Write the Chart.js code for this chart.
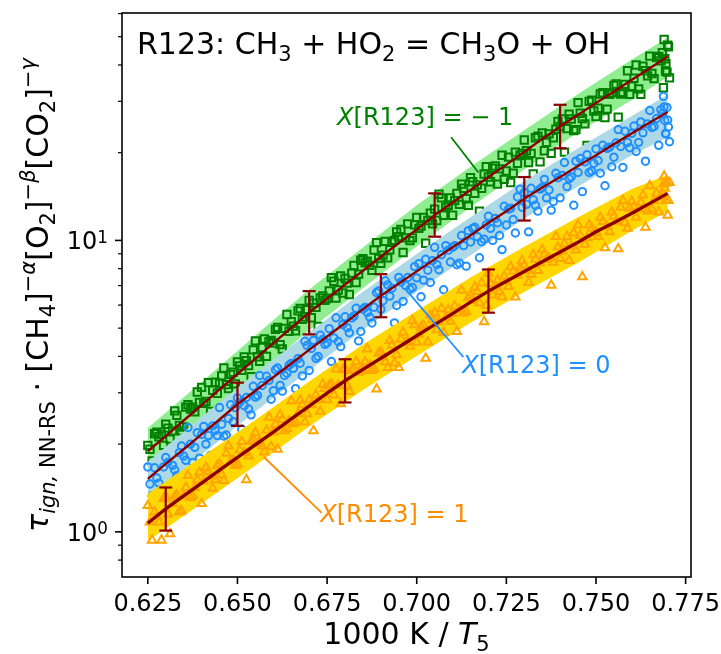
<!DOCTYPE html>
<html lang="en">
<head>
  <meta charset="UTF-8" />
  <title>R123: CH3 + HO2 = CH3O + OH</title>
  <script src="https://cdn.jsdelivr.net/npm/chart.js"></script>
  <style>
    html, body { margin: 0; padding: 0; background: #fff; }
    #wrap { width: 721px; height: 654px; }
  </style>
</head>
<body>
  <div id="wrap"><canvas id="chart" width="721" height="654"></canvas></div>

  <script>
    // ---- data ----
    const xTickValues = [0.625, 0.650, 0.675, 0.700, 0.725, 0.750, 0.775];
    const xTickLabels = ["0.625", "0.650", "0.675", "0.700", "0.725", "0.750", "0.775"];
    const yMajorValues = [1, 10];
    const yMajorExponents = ["0", "1"];
    const yMinorValues = [0.8, 0.9, 2, 3, 4, 5, 6, 7, 8, 9, 20, 30, 40, 50, 60];

    // NN-RS fit curves
    const fitX = [0.625, 0.630, 0.635, 0.640, 0.645, 0.650, 0.655, 0.660, 0.665, 0.670,
                  0.675, 0.680, 0.685, 0.690, 0.695, 0.700, 0.705, 0.710, 0.715, 0.720,
                  0.725, 0.730, 0.735, 0.740, 0.745, 0.750, 0.755, 0.760, 0.765, 0.770];
    const fitGreen = [1.89, 2.13, 2.41, 2.72, 3.08, 3.48, 3.93, 4.44, 5.01, 5.65,
                      6.31, 7.05, 7.87, 8.79, 9.80, 10.9, 12.2, 13.5, 14.9, 16.5,
                      18.2, 20.1, 22.3, 24.6, 27.0, 29.6, 32.4, 35.6, 39.0, 42.8];
    const fitBlue = [1.52, 1.71, 1.92, 2.16, 2.43, 2.74, 3.05, 3.39, 3.78, 4.21,
                     4.68, 5.21, 5.81, 6.46, 7.11, 7.83, 8.61, 9.48, 10.4, 11.5,
                     12.6, 13.9, 15.2, 16.5, 18.0, 19.6, 21.4, 23.3, 25.4, 27.6];
    const fitOrange = [1.07, 1.20, 1.33, 1.47, 1.63, 1.80, 1.99, 2.20, 2.44, 2.70,
                       2.99, 3.30, 3.61, 3.94, 4.31, 4.71, 5.14, 5.61, 6.14, 6.70,
                       7.24, 7.82, 8.45, 9.12, 9.86, 10.7, 11.5, 12.4, 13.4, 14.5];

    // shaded uncertainty bands
    const bandX = [0.625, 0.640, 0.655, 0.670, 0.685, 0.700, 0.715, 0.730, 0.745, 0.760, 0.770];
    const greenHi = [2.27, 3.27, 4.72, 6.79, 9.46, 13.2, 17.9, 23.9, 31.8, 41.8, 49.7];
    const greenLo = [1.64, 2.37, 3.42, 4.92, 6.85, 9.53, 13.0, 17.5, 23.5, 30.3, 36.4];
    const blueHi = [1.74, 2.48, 3.50, 4.83, 6.67, 8.99, 12.0, 16.0, 20.7, 26.7, 31.7];
    const blueLo = [1.29, 1.84, 2.59, 3.58, 4.94, 6.67, 8.89, 11.9, 15.3, 19.6, 22.6];
    const orangeHi = [1.35, 1.81, 2.42, 3.28, 4.39, 5.73, 7.46, 9.51, 12.0, 15.0, 16.8];
    const orangeLo = [0.93, 1.25, 1.69, 2.30, 3.07, 4.01, 5.22, 6.65, 8.39, 10.8, 12.6];

    // error bars
    const greenErrX = [0.670, 0.705, 0.740];
    const greenErrLo = [4.76, 10.3, 20.7];
    const greenErrHi = [6.70, 14.5, 29.2];
    const blueErrX = [0.650, 0.690, 0.730];
    const blueErrLo = [2.31, 5.45, 11.7];
    const blueErrHi = [3.25, 7.66, 16.5];
    const orangeErrX = [0.630, 0.680, 0.720];
    const orangeErrLo = [1.01, 2.78, 5.65];
    const orangeErrHi = [1.42, 3.91, 7.95];

    // scattered samples, two passes of x positions shared by the three mixtures
    const scatterX = [
      0.625, 0.6262, 0.6275, 0.6288, 0.630, 0.6312, 0.6325, 0.6338,
      0.635, 0.6362, 0.6375, 0.6388, 0.640, 0.6412, 0.6425, 0.6438,
      0.645, 0.6462, 0.6475, 0.6488, 0.650, 0.6512, 0.6525, 0.6538,
      0.655, 0.6562, 0.6575, 0.6588, 0.660, 0.6612, 0.6625, 0.6638,
      0.665, 0.6662, 0.6675, 0.6688, 0.670, 0.6712, 0.6725, 0.6738,
      0.675, 0.6762, 0.6775, 0.6788, 0.680, 0.6812, 0.6825, 0.6838,
      0.685, 0.6862, 0.6875, 0.6888, 0.690, 0.6912, 0.6925, 0.6938,
      0.695, 0.6962, 0.6975, 0.6988, 0.700, 0.7012, 0.7025, 0.7038,
      0.705, 0.7062, 0.7075, 0.7088, 0.710, 0.7112, 0.7125, 0.7138,
      0.715, 0.7162, 0.7175, 0.7188, 0.720, 0.7212, 0.7225, 0.7238,
      0.725, 0.7262, 0.7275, 0.7288, 0.730, 0.7312, 0.7325, 0.7338,
      0.735, 0.7362, 0.7375, 0.7388, 0.740, 0.7412, 0.7425, 0.7438,
      0.745, 0.7462, 0.7475, 0.7488, 0.750, 0.7512, 0.7525, 0.7538,
      0.755, 0.7562, 0.7575, 0.7588, 0.760, 0.7612, 0.7625, 0.7638,
      0.765, 0.7662, 0.7675, 0.7688, 0.769, 0.7695, 0.770, 0.7705
    ];
    const scatterX2 = [
      0.6256, 0.6269, 0.6281, 0.6294, 0.6306, 0.6319, 0.6331, 0.6344,
      0.6356, 0.6369, 0.6381, 0.6394, 0.6406, 0.6419, 0.6431, 0.6444,
      0.6456, 0.6469, 0.6481, 0.6494, 0.6506, 0.6519, 0.6531, 0.6544,
      0.6556, 0.6569, 0.6581, 0.6594, 0.6606, 0.6619, 0.6631, 0.6644,
      0.6656, 0.6669, 0.6681, 0.6694, 0.6706, 0.6719, 0.6731, 0.6744,
      0.6756, 0.6769, 0.6781, 0.6794, 0.6806, 0.6819, 0.6831, 0.6844,
      0.6856, 0.6869, 0.6881, 0.6894, 0.6906, 0.6919, 0.6931, 0.6944,
      0.6956, 0.6969, 0.6981, 0.6994, 0.7006, 0.7019, 0.7031, 0.7044,
      0.7056, 0.7069, 0.7081, 0.7094, 0.7106, 0.7119, 0.7131, 0.7144,
      0.7156, 0.7169, 0.7181, 0.7194, 0.7206, 0.7219, 0.7231, 0.7244,
      0.7256, 0.7269, 0.7281, 0.7294, 0.7306, 0.7319, 0.7331, 0.7344,
      0.7356, 0.7369, 0.7381, 0.7394, 0.7406, 0.7419, 0.7431, 0.7444,
      0.7456, 0.7469, 0.7481, 0.7494, 0.7506, 0.7519, 0.7531, 0.7544,
      0.7556, 0.7569, 0.7581, 0.7594, 0.7606, 0.7619, 0.7631, 0.7644,
      0.7656, 0.7669, 0.7681, 0.7694, 0.7685, 0.7692, 0.7698, 0.7702
    ];
    const greenY = [
      1.98, 1.75, 2.20, 2.16, 2.34, 2.08, 2.60, 2.32,
      2.29, 2.73, 2.68, 3.02, 3.13, 2.80, 2.59, 3.26,
      3.23, 3.65, 3.10, 3.53, 3.83, 3.58, 3.87, 3.41,
      4.52, 3.85, 4.59, 4.49, 4.44, 5.03, 4.24, 5.57,
      5.26, 4.90, 5.84, 5.46, 6.22, 6.09, 5.07, 6.45,
      6.31, 7.45, 6.34, 7.55, 7.40, 6.52, 8.20, 7.66,
      8.66, 8.48, 7.90, 9.83, 8.35, 9.93, 9.29, 10.0,
      10.3, 9.09, 11.4, 10.2, 12.0, 11.2, 9.78, 12.4,
      12.8, 14.4, 12.2, 13.2, 12.2, 14.5, 15.6, 13.9,
      16.4, 14.5, 12.6, 16.9, 16.5, 17.7, 15.6, 19.6,
      17.3, 15.8, 20.1, 19.6, 22.1, 18.5, 16.9, 22.8,
      23.4, 21.7, 19.9, 24.1, 24.6, 20.1, 27.1, 23.8,
      29.7, 26.2, 21.2, 30.3, 26.6, 31.8, 26.4, 31.7,
      34.0, 26.5, 32.2, 38.2, 33.8, 40.0, 31.7, 38.2,
      42.9, 35.9, 42.8, 33.4, 48.9, 40.4, 46.8, 36.1
    ];
    const greenY2 = [
      1.92, 2.17, 2.12, 1.98, 2.27, 2.22, 2.51, 2.22,
      2.68, 2.64, 2.58, 2.78, 2.76, 3.25, 3.06, 2.99,
      3.43, 3.20, 3.47, 3.22, 3.71, 3.98, 3.72, 4.21,
      3.99, 4.29, 4.00, 4.54, 4.95, 4.39, 4.99, 4.88,
      5.08, 5.73, 5.36, 5.79, 5.43, 5.89, 6.35, 6.23,
      6.71, 7.24, 6.76, 6.60, 7.14, 7.72, 7.17, 8.55,
      8.37, 8.21, 9.27, 8.67, 8.90, 8.71, 9.88, 10.7,
      10.9, 10.2, 9.98, 11.3, 11.0, 12.0, 11.7, 11.4,
      11.7, 14.0, 13.0, 14.0, 13.7, 13.3, 15.1, 13.2,
      15.9, 15.5, 15.1, 17.9, 15.9, 18.0, 17.6, 16.2,
      19.3, 17.0, 18.4, 19.9, 20.3, 19.9, 22.5, 18.6,
      20.3, 23.2, 22.5, 25.6, 26.1, 24.2, 26.1, 24.0,
      27.3, 25.1, 30.0, 27.8, 28.4, 32.1, 28.2, 32.1,
      34.4, 31.8, 34.3, 31.7, 36.0, 33.1, 39.6, 36.7,
      37.4, 42.4, 41.3, 38.1, 44.1, 42.0, 37.8, 46.2
    ];
    const blueY = [
      1.67, 1.33, 1.53, 1.33, 1.80, 1.41, 1.63, 1.87,
      1.82, 2.28, 1.73, 2.19, 2.16, 2.00, 1.83, 2.23,
      2.67, 2.13, 2.45, 2.39, 2.88, 2.25, 2.89, 2.52,
      2.90, 3.44, 2.42, 3.31, 3.05, 3.65, 3.04, 3.50,
      3.78, 3.10, 3.79, 4.51, 3.58, 4.54, 4.00, 4.57,
      4.45, 3.84, 5.43, 4.32, 5.47, 4.82, 5.50, 4.52,
      5.81, 5.66, 5.21, 6.62, 5.81, 7.27, 6.44, 5.21,
      7.47, 6.18, 7.46, 6.89, 7.44, 6.41, 8.62, 7.17,
      9.47, 7.93, 6.77, 9.26, 9.48, 8.25, 10.4, 8.16,
      9.88, 11.1, 8.72, 10.1, 12.1, 10.0, 11.5, 9.30,
      11.3, 12.9, 10.6, 15.0, 14.6, 10.7, 13.8, 12.6,
      15.2, 14.0, 12.7, 17.0, 14.0, 18.5, 16.3, 13.2,
      17.1, 14.7, 19.7, 17.3, 20.6, 17.0, 15.4, 20.9,
      19.3, 24.0, 17.8, 21.7, 23.3, 20.2, 25.5, 18.7,
      27.9, 24.6, 21.2, 31.2, 28.7, 23.2, 25.9, 21.8
    ];
    const blueY2 = [
      1.46, 1.66, 1.47, 1.67, 1.73, 1.69, 1.56, 1.97,
      1.76, 2.00, 1.95, 1.79, 2.30, 2.14, 2.31, 2.14,
      2.34, 2.15, 2.73, 2.67, 2.78, 2.71, 2.64, 3.16,
      2.94, 3.18, 3.42, 2.85, 3.60, 3.18, 3.44, 3.73,
      3.64, 3.93, 3.43, 4.36, 4.26, 3.94, 4.73, 4.40,
      4.98, 4.63, 4.50, 5.14, 5.02, 5.42, 5.85, 4.87,
      5.89, 5.45, 5.90, 6.71, 6.21, 7.04, 6.86, 5.98,
      7.20, 7.00, 6.80, 8.13, 8.32, 7.31, 7.90, 8.52,
      8.27, 8.93, 9.60, 8.43, 9.59, 8.36, 9.60, 10.8,
      11.0, 10.3, 9.90, 11.3, 11.0, 11.9, 10.4, 13.1,
      12.8, 11.8, 14.1, 13.0, 13.3, 15.1, 13.2, 15.0,
      16.2, 14.9, 13.6, 16.4, 16.7, 15.3, 16.5, 18.7,
      19.1, 18.6, 17.1, 18.4, 18.8, 21.2, 20.7, 17.9,
      21.6, 21.0, 23.7, 20.8, 24.7, 21.7, 23.4, 25.1,
      24.4, 26.2, 28.1, 23.3, 27.2, 25.8, 28.6, 24.5
    ];
    const orangeY = [
      1.23, 0.935, 1.13, 0.936, 1.32, 0.984, 1.32, 1.17,
      1.33, 1.56, 1.33, 1.51, 1.25, 1.66, 1.55, 1.51,
      1.71, 1.50, 1.97, 1.76, 1.71, 2.04, 1.51, 2.04,
      2.19, 2.04, 1.88, 2.47, 2.20, 1.92, 2.43, 2.26,
      2.81, 2.38, 2.83, 2.38, 2.84, 2.22, 2.84, 3.21,
      2.84, 3.21, 3.62, 2.75, 3.63, 3.03, 3.62, 3.53,
      3.61, 4.24, 3.58, 3.09, 4.14, 3.83, 4.53, 3.80,
      3.66, 4.84, 4.50, 5.30, 4.47, 5.05, 3.94, 5.54,
      5.65, 5.25, 4.83, 5.78, 5.61, 4.87, 6.74, 5.70,
      6.45, 6.91, 6.10, 5.26, 7.71, 6.49, 7.31, 6.39,
      7.24, 8.12, 6.39, 8.05, 8.21, 7.17, 8.93, 7.88,
      9.30, 8.61, 7.02, 10.3, 8.66, 9.75, 8.53, 10.6,
      11.3, 7.50, 10.2, 11.0, 10.7, 12.0, 9.44, 10.7,
      12.1, 9.36, 13.7, 11.0, 13.6, 12.0, 13.5, 11.1,
      15.4, 13.7, 12.5, 15.6, 16.6, 13.7, 12.2, 15.8
    ];
    const orangeY2 = [
      1.08, 1.17, 1.08, 1.30, 1.15, 1.25, 1.34, 1.18,
      1.42, 1.31, 1.42, 1.60, 1.49, 1.61, 1.41, 1.69,
      1.57, 1.86, 1.74, 1.69, 1.91, 1.87, 1.82, 2.07,
      2.01, 1.97, 2.23, 1.96, 2.34, 2.52, 2.22, 2.40,
      2.35, 2.54, 2.73, 2.54, 2.73, 2.95, 2.59, 3.10,
      3.18, 2.95, 3.18, 3.60, 3.17, 3.58, 3.84, 3.57,
      3.83, 3.73, 3.63, 4.10, 3.98, 3.66, 4.37, 4.05,
      4.58, 4.46, 4.33, 5.13, 4.76, 5.11, 4.48, 5.34,
      4.94, 5.84, 5.43, 5.28, 5.95, 5.80, 5.63, 6.36,
      6.21, 6.67, 7.14, 5.98, 7.10, 6.90, 6.68, 7.53,
      6.94, 7.83, 7.59, 8.53, 7.89, 7.65, 8.61, 8.37,
      8.96, 8.70, 8.42, 9.49, 9.20, 10.3, 9.57, 9.27,
      10.4, 9.69, 11.3, 10.6, 10.3, 11.6, 11.2, 12.5,
      11.6, 13.0, 11.5, 12.9, 13.1, 12.8, 14.3, 12.6,
      12.8, 14.5, 14.1, 15.7, 14.4, 15.1, 15.8, 13.7
    ];

    // ---- text ----
    const titleParts = [["R123: CH"], ["3", "sub"], [" + HO"], ["2", "sub"], [" = CH"], ["3", "sub"], ["O + OH"]];
    const xLabelParts = [["1000 K / "], ["T", "it"], ["5", "sub"]];
    const yLabelParts = [["τ", "it"], ["ign,", "sub it"], [" NN-RS", "sub"], [" · [CH"], ["4", "sub"], ["]"],
                         ["−", "sup"], ["α", "sup it"], ["[O"], ["2", "sub"], ["]"], ["−", "sup"], ["β", "sup it"],
                         ["[CO"], ["2", "sub"], ["]"], ["−", "sup"], ["γ", "sup it"]];
    const notes = [
      { parts: [["X", "it"], ["[R123] = − 1"]], color: "#008000", tx: 0.6778, ty: 24.8, x1: 0.7096, y1: 22.6, x2: 0.7172, y2: 17.1 },
      { parts: [["X", "it"], ["[R123] = 0"]], color: "#1e90ff", tx: 0.7127, ty: 3.51, x1: 0.7130, y1: 3.98, x2: 0.6973, y2: 6.71 },
      { parts: [["X", "it"], ["[R123] = 1"]], color: "#ff8c00", tx: 0.6731, ty: 1.083, x1: 0.6735, y1: 1.162, x2: 0.6573, y2: 1.81 }
    ];

    const FONT = '"DejaVu Sans"';
    const pts = (xs, ys) => xs.map((x, i) => ({ x, y: ys[i] }));
    const errPts = (xs, lo, hi) => xs.flatMap((x, i) => [{ x, y: lo[i] }, { x, y: hi[i] }, { x, y: null }]);

    function layoutRich(ctx, parts, size, supRise, subDrop) {
      return parts.map(([t, f = ""]) => {
        const small = f.includes("sub") || f.includes("sup");
        const font = (f.includes("it") ? "italic " : "") + (small ? size * 0.7 : size) + "px " + FONT;
        ctx.font = font;
        const dy = f.includes("sub") ? size * subDrop : f.includes("sup") ? -size * supRise : 0;
        return { t, font, dy, w: ctx.measureText(t).width };
      });
    }

    function drawRich(ctx, parts, x, y, size, opts = {}) {
      const runs = layoutRich(ctx, parts, size, opts.supRise ?? 0.38, opts.subDrop ?? 0.22);
      const total = runs.reduce((s, r) => s + r.w, 0);
      let cx = opts.align === "center" ? x - total / 2 : opts.align === "right" ? x - total : x;
      ctx.textAlign = "left";
      ctx.textBaseline = "alphabetic";
      runs.forEach(r => {
        ctx.font = r.font;
        ctx.fillText(r.t, cx, y + r.dy);
        cx += r.w;
      });
    }

    function seg(ctx, x1, y1, x2, y2) {
      ctx.beginPath();
      ctx.moveTo(x1, y1);
      ctx.lineTo(x2, y2);
      ctx.stroke();
    }

    const decor = {
      id: "decor",
      afterDraw(chart) {
        const { ctx, chartArea: a, scales: { x, y } } = chart;
        ctx.save();

        // annotations
        notes.forEach(n => {
          ctx.strokeStyle = n.color;
          ctx.fillStyle = n.color;
          ctx.lineWidth = 1.8;
          seg(ctx, x.getPixelForValue(n.x1), y.getPixelForValue(n.y1), x.getPixelForValue(n.x2), y.getPixelForValue(n.y2));
          drawRich(ctx, n.parts, x.getPixelForValue(n.tx), y.getPixelForValue(n.ty), 24);
        });

        ctx.strokeStyle = "#000";
        ctx.fillStyle = "#000";
        drawRich(ctx, titleParts, a.left + 15, a.top + 41, 30);

        // frame
        ctx.lineWidth = 1.6;
        ctx.strokeRect(a.left, a.top, a.right - a.left, a.bottom - a.top);

        // x ticks
        xTickValues.forEach((v, i) => {
          const px = x.getPixelForValue(v);
          seg(ctx, px, a.bottom, px, a.bottom + 7);
          drawRich(ctx, [[xTickLabels[i]]], px, a.bottom + 34, 24, { align: "center" });
        });

        // y ticks
        yMajorValues.forEach((v, i) => {
          const py = y.getPixelForValue(v);
          ctx.lineWidth = 1.6;
          seg(ctx, a.left - 7, py, a.left, py);
          drawRich(ctx, [["10"], [yMajorExponents[i], "sup"]], a.left - 14, py + 9, 24, { align: "right", supRise: 0.28 });
        });
        ctx.lineWidth = 1.2;
        yMinorValues.forEach(v => {
          const py = y.getPixelForValue(v);
          seg(ctx, a.left - 4, py, a.left, py);
        });

        // axis titles
        drawRich(ctx, xLabelParts, (a.left + a.right) / 2, 644, 30, { align: "center" });
        ctx.save();
        ctx.translate(48, (a.top + a.bottom) / 2);
        ctx.rotate(-Math.PI / 2);
        drawRich(ctx, yLabelParts, 0, 0, 30, { align: "center", supRise: 0.42 });
        ctx.restore();

        ctx.restore();
      }
    };

    const band = (xs, ys, color, fill, order) => ({
      type: "line", data: pts(xs, ys), borderColor: "transparent", borderWidth: 0,
      pointRadius: 0, backgroundColor: color, fill, tension: 0, order
    });
    const scatter = (ys, ys2, color, style, radius, order) => ({
      type: "scatter", data: pts(scatterX.concat(scatterX2), ys.concat(ys2)), pointStyle: style, pointRadius: radius,
      pointBorderColor: color, pointBackgroundColor: "transparent", pointBorderWidth: 2, order
    });
    const fit = (ys, width, order) => ({
      type: "line", data: pts(fitX, ys), borderColor: "#8b0000", borderWidth: width,
      pointRadius: 0, fill: false, tension: 0, order
    });
    const errors = (xs, lo, hi) => ({
      type: "line", data: errPts(xs, lo, hi), borderColor: "#8b0000", borderWidth: 2.2,
      pointStyle: "line", pointRadius: 6.5, pointBorderColor: "#8b0000", pointBorderWidth: 2.2,
      fill: false, spanGaps: false, order: 1
    });

    const datasets = [
      band(bandX, greenHi, "#90ee90", "+1", 20),
      band(bandX, greenLo, "#90ee90", false, 20),
      scatter(greenY, greenY2, "#008000", "rect", 5.2, 19),
      fit(fitGreen, 2.4, 18),
      band(bandX, blueHi, "#add8e6", "+1", 17),
      band(bandX, blueLo, "#add8e6", false, 17),
      scatter(blueY, blueY2, "#1e90ff", "circle", 3.7, 16),
      fit(fitBlue, 2.4, 15),
      band(bandX, orangeHi, "#ffd700", "+1", 14),
      band(bandX, orangeLo, "#ffd700", false, 14),
      scatter(orangeY, orangeY2, "#ffa500", "triangle", 4.9, 13),
      fit(fitOrange, 3.4, 12),
      errors(greenErrX, greenErrLo, greenErrHi),
      errors(blueErrX, blueErrLo, blueErrHi),
      errors(orangeErrX, orangeErrLo, orangeErrHi)
    ];

    new Chart(document.getElementById("chart").getContext("2d"), {
      type: "scatter",
      data: { datasets },
      options: {
        responsive: false,
        animation: false,
        layout: { padding: { left: 0, top: 13, right: 30, bottom: 0 } },
        plugins: { legend: { display: false }, tooltip: { enabled: false } },
        scales: {
          x: {
            type: "linear", min: 0.6178, max: 0.7765,
            ticks: { display: false }, grid: { display: false }, border: { display: false },
            afterFit: s => { s.height = 77; }
          },
          y: {
            type: "logarithmic", min: 0.7457, max: 60.3,
            ticks: { display: false }, grid: { display: false }, border: { display: false },
            afterFit: s => { s.width = 122; }
          }
        }
      },
      plugins: [decor]
    });
  </script>
</body>
</html>
